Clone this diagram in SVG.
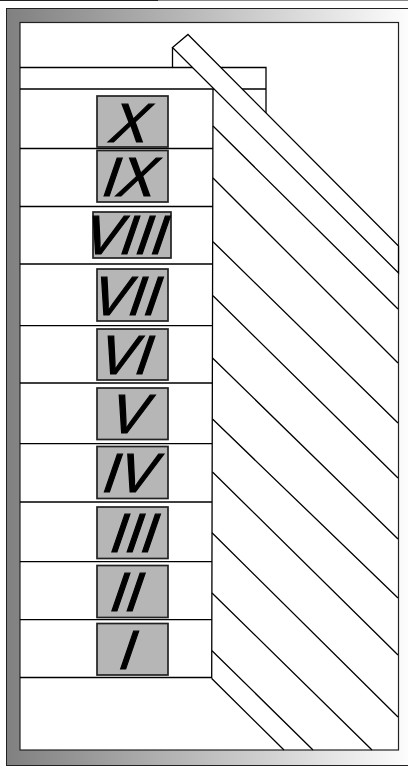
<svg xmlns="http://www.w3.org/2000/svg" width="408" height="769" viewBox="0 0 408 769">
<style>
.l{fill:none;stroke:#000;stroke-width:1.3}
.b{fill:#b6b6b6;stroke:#222;stroke-width:1.7}
.t{font-family:"Liberation Sans",Arial,sans-serif;font-size:55px;fill:#000;stroke:#000;stroke-width:1.2}
</style>
<defs><linearGradient id="g" x1="0" y1="0" x2="1" y2="0"><stop offset="0" stop-color="#808080"/><stop offset="1" stop-color="#fff"/></linearGradient></defs>
<rect width="408" height="769" fill="#fff"/>
<path d="M0 .5H158" stroke="#222" fill="none"/><path d="M158 .5H408" stroke="#888" fill="none"/>
<rect id="frame" x="6.5" y="8.5" width="410" height="757" fill="url(#g)" stroke="#222"/>
<rect id="panel" x="20" y="22.5" width="378.5" height="727.5" fill="#fff" stroke="#222" stroke-width="1.2"/>
<g id="connectors">
<path class="l" d="M172.5 47.5V68M20 67.5H266V113M20 89H266"/>
<path class="l" d="M213 89 211.7 678.5M20 148.5H213M20 206.5H213M20 264H213M20 325.7H212.6M20 383H212.4M20 443.7H212M20 502H212M20 561.7H212M20 619.7H212M20 677.5H211.7"/>
<path class="l" d="M213 126 398 309M213 178 398 363M213 241.7 398 423M213 295.7 398 478M212.5 358 398 539M212.5 419 398 598M212.5 472 398 655M212 532.7 398 717M212 593 372 750M212 650.7 313 750M211.7 678.5 284 750"/>
<polygon class="l" style="fill:#fff" points="188,34.5 398.5,246 398.5,273 172.5,47.5"/>
</g>
<g id="n10"><rect class="b" x="97" y="96" width="71" height="51"/><text class="t" transform="translate(106.7 142.2) skewX(-19)">X</text></g>
<g id="n9"><rect class="b" x="97" y="150.5" width="71" height="51.5"/><text class="t" transform="translate(99 195.5) skewX(-19)">IX</text></g>
<g id="n8"><rect class="b" x="93" y="212" width="78" height="46"/><text class="t" transform="translate(80 253.5) skewX(-19)">VIII</text></g>
<g id="n7"><rect class="b" x="97" y="269" width="71" height="52"/><text class="t" transform="translate(88.3 314.5) skewX(-19)">VII</text></g>
<g id="n6"><rect class="b" x="97" y="329" width="71" height="51"/><text class="t" transform="translate(95 373.5) skewX(-19)">VI</text></g>
<g id="n5"><rect class="b" x="97" y="388" width="71" height="51.5"/><text class="t" transform="translate(106 432.8) skewX(-19)">V</text></g>
<g id="n4"><rect class="b" x="97" y="446.5" width="71" height="52"/><text class="t" transform="translate(99.3 491.8) skewX(-19)">IV</text></g>
<g id="n3"><rect class="b" x="97" y="507" width="71" height="51.5"/><text class="t" transform="translate(106.7 551.8) skewX(-19)">III</text></g>
<g id="n2"><rect class="b" x="97" y="565.5" width="71" height="52"/><text class="t" transform="translate(106.7 610.8) skewX(-19)">II</text></g>
<g id="n1"><rect class="b" x="97" y="623.5" width="71" height="51.5"/><text class="t" transform="translate(115.6 668.5) skewX(-19)">I</text></g>
</svg>
